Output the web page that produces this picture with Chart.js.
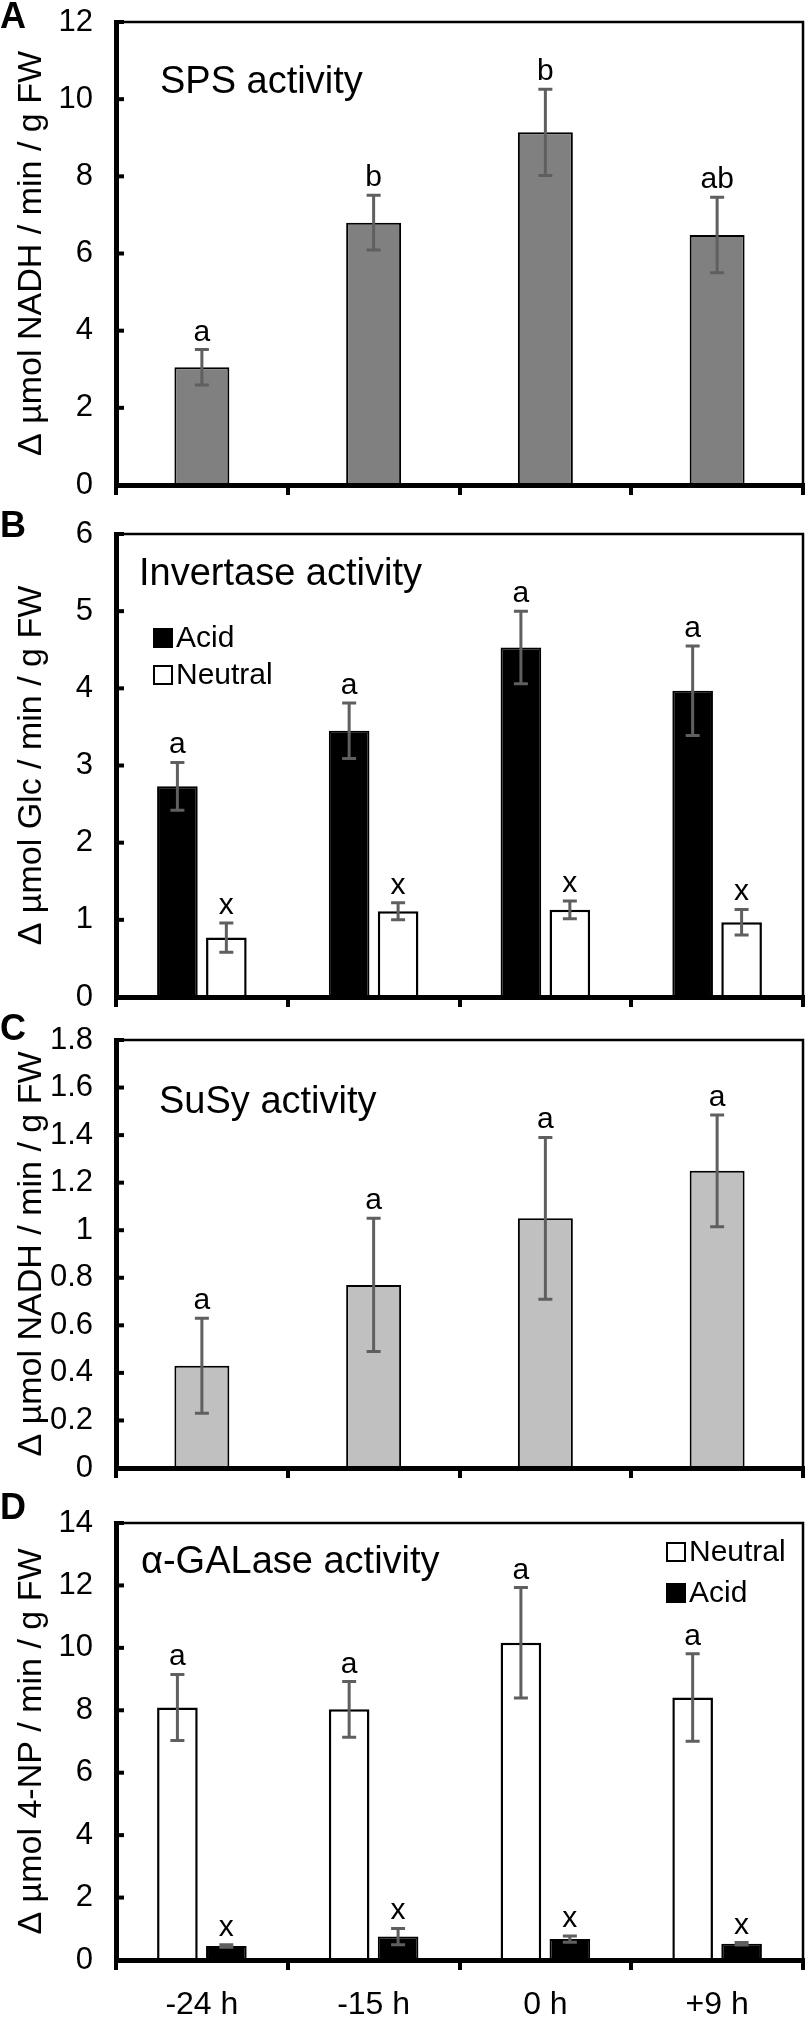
<!DOCTYPE html>
<html>
<head>
<meta charset="utf-8">
<title>Enzyme activities</title>
<script src="https://cdn.jsdelivr.net/npm/chart.js@4.4.1/dist/chart.umd.min.js"></script>
<style>
  body { margin: 0; background: #fff; }
  #page { position: relative; width: 811px; height: 2034px; }
  canvas { position: absolute; left: 0; }
</style>
</head>
<body>
<div id="page">
  <canvas id="chart-a" width="811" height="520" style="top:0px"></canvas>
  <canvas id="chart-b" width="811" height="535" style="top:500px"></canvas>
  <canvas id="chart-c" width="811" height="500" style="top:1005px"></canvas>
  <canvas id="chart-d" width="811" height="544" style="top:1490px"></canvas>
</div>
<script>
// sampling times
var timeLabels = ['-24 h', '-15 h', '0 h', '+9 h'];

// A - SPS
var spsMean = [3.05, 6.80, 9.14, 6.48];
var spsErr = [0.46, 0.71, 1.12, 0.98];
var spsLetters = ['a', 'b', 'b', 'ab'];

// B - invertase
var invAcidMean = [2.73, 3.45, 4.53, 3.97];
var invAcidErr = [0.31, 0.36, 0.47, 0.58];
var invAcidLetters = ['a', 'a', 'a', 'a'];
var invNeutralMean = [0.77, 1.11, 1.13, 0.97];
var invNeutralErr = [0.19, 0.11, 0.115, 0.165];
var invNeutralLetters = ['x', 'x', 'x', 'x'];

// C - SuSy
var susyMean = [0.43, 0.77, 1.05, 1.25];
var susyErr = [0.20, 0.28, 0.34, 0.235];
var susyLetters = ['a', 'a', 'a', 'a'];

// D - alpha-galactosidase
var galNeutralMean = [8.09, 8.03, 10.16, 8.41];
var galNeutralErr = [1.06, 0.89, 1.77, 1.40];
var galNeutralLetters = ['a', 'a', 'a', 'a'];
var galAcidMean = [0.45, 0.75, 0.67, 0.52];
var galAcidErr = [0.04, 0.26, 0.10, 0.04];
var galAcidLetters = ['x', 'x', 'x', 'x'];

// y axis ranges [max, step]
var spsAxis = [12, 2];
var invAxis = [6, 1];
var susyAxis = [1.8, 0.2];
var galAxis = [14, 2];

var FONT = "'Liberation Sans', Arial, Helvetica, sans-serif";
Chart.defaults.font.family = FONT;
Chart.defaults.color = '#000';

// frame, inward ticks, error bars, letters, heading, legend
var decor = {
  id: 'decor',
  afterDatasetsDraw: function(chart, args, opts) {
    var ctx = chart.ctx, area = chart.chartArea, y = chart.scales.y;
    ctx.save();
    ctx.strokeStyle = '#000';
    ctx.lineWidth = 2.5;
    ctx.beginPath();
    ctx.moveTo(area.left, area.top);
    ctx.lineTo(area.right, area.top);
    ctx.lineTo(area.right, area.bottom);
    ctx.stroke();

    ctx.lineWidth = 4;
    y.ticks.forEach(function(t) {
      var py = y.getPixelForValue(t.value);
      ctx.beginPath();
      ctx.moveTo(area.left, py);
      ctx.lineTo(area.left + 8, py);
      ctx.stroke();
    });

    chart.data.datasets.forEach(function(ds, di) {
      var meta = chart.getDatasetMeta(di);
      meta.data.forEach(function(bar, i) {
        var hi = y.getPixelForValue(ds.data[i] + ds.errors[i]);
        var lo = y.getPixelForValue(ds.data[i] - ds.errors[i]);
        ctx.strokeStyle = '#5f5f5f';
        ctx.lineWidth = 3;
        ctx.beginPath();
        ctx.moveTo(bar.x, hi); ctx.lineTo(bar.x, lo);
        ctx.moveTo(bar.x - 7, hi); ctx.lineTo(bar.x + 7, hi);
        ctx.moveTo(bar.x - 7, lo); ctx.lineTo(bar.x + 7, lo);
        ctx.stroke();
        ctx.fillStyle = '#000';
        ctx.font = '30px ' + FONT;
        ctx.textAlign = 'center';
        ctx.textBaseline = 'alphabetic';
        ctx.fillText(ds.letters[i], bar.x, hi - 9);
      });
    });

    // panel letter
    ctx.font = 'bold 36px ' + FONT;
    ctx.textAlign = 'left';
    ctx.textBaseline = 'middle';
    ctx.fillText(opts.letter, 0, area.top + opts.letterDy);

    // heading inside plot
    ctx.font = '38px ' + FONT;
    ctx.textBaseline = 'alphabetic';
    ctx.fillText(opts.heading, area.left + opts.headingDx, area.top + opts.headingDy);

    // legend
    if (opts.legend) {
      ctx.font = '30px ' + FONT;
      ctx.textBaseline = 'middle';
      chart.data.datasets.forEach(function(ds, di) {
        var lx = opts.legend.x, ly = area.top + opts.legend.dy + di * opts.legend.row;
        ctx.fillStyle = ds.backgroundColor;
        ctx.fillRect(lx, ly - 9, 18, 18);
        ctx.strokeStyle = '#000';
        ctx.lineWidth = 2;
        ctx.strokeRect(lx, ly - 9, 18, 18);
        ctx.fillStyle = '#000';
        ctx.fillText(ds.label, lx + 22, ly + 1);
      });
    }
    ctx.restore();
  }
};

function makePanel(id, datasets, axis, yTitle, decorOpts, padTop, xHeight, showX) {
  return new Chart(document.getElementById(id), {
    type: 'bar',
    data: { labels: timeLabels, datasets: datasets },
    options: {
      responsive: false,
      animation: false,
      events: [],
      layout: { padding: { top: padTop, right: 8, left: 0, bottom: 0 } },
      plugins: { legend: { display: false }, tooltip: { enabled: false }, decor: decorOpts },
      scales: {
        x: {
          grid: { offset: true, drawOnChartArea: false, color: '#000', lineWidth: 4, tickLength: 10, z: 1 },
          border: { display: true, color: '#000', width: 5, z: 1 },
          ticks: { display: showX, font: { size: 32 }, padding: 16 },
          afterFit: function(s) { s.height = xHeight; }
        },
        y: {
          min: 0, max: axis[0],
          // outward marks kept invisible: they only set the label gap
          grid: { display: true, drawOnChartArea: false, color: 'rgba(0,0,0,0)', tickLength: 23 },
          border: { display: true, color: '#000', width: 5, z: 1 },
          ticks: {
            stepSize: axis[1], font: { size: 31 }, padding: 0,
            callback: function(v) { return String(Math.round(v * 10) / 10); }
          },
          title: { display: true, text: yTitle, font: { size: 34 }, padding: { top: 11, bottom: 0 } },
          afterFit: function(s) { s.width = 116; }
        }
      }
    },
    plugins: [decor]
  });
}

makePanel('chart-a', [
  { label: 'SPS', data: spsMean, errors: spsErr, letters: spsLetters,
    backgroundColor: '#808080', borderColor: '#000', borderWidth: 2,
    barPercentage: 0.32, categoryPercentage: 1 }
], spsAxis, 'Δ µmol NADH / min / g FW',
  { letter: 'A', letterDy: -4, heading: 'SPS activity', headingDx: 44, headingDy: 71 },
  22, 35, false);

makePanel('chart-b', [
  { label: 'Acid', data: invAcidMean, errors: invAcidErr, letters: invAcidLetters,
    backgroundColor: '#000000', borderColor: '#000', borderWidth: 2,
    barPercentage: 0.83, categoryPercentage: 0.57 },
  { label: 'Neutral', data: invNeutralMean, errors: invNeutralErr, letters: invNeutralLetters,
    backgroundColor: '#ffffff', borderColor: '#000', borderWidth: 2.5,
    barPercentage: 0.83, categoryPercentage: 0.57 }
], invAxis, 'Δ µmol Glc / min / g FW',
  { letter: 'B', letterDy: -7, heading: 'Invertase activity', headingDx: 23, headingDy: 51,
    legend: { x: 154, dy: 104, row: 37 } },
  34, 38, false);

makePanel('chart-c', [
  { label: 'SuSy', data: susyMean, errors: susyErr, letters: susyLetters,
    backgroundColor: '#c0c0c0', borderColor: '#000', borderWidth: 2,
    barPercentage: 0.32, categoryPercentage: 1 }
], susyAxis, 'Δ µmol NADH / min / g FW',
  { letter: 'C', letterDy: -10, heading: 'SuSy activity', headingDx: 43, headingDy: 73 },
  35, 37, false);

makePanel('chart-d', [
  { label: 'Neutral', data: galNeutralMean, errors: galNeutralErr, letters: galNeutralLetters,
    backgroundColor: '#ffffff', borderColor: '#000', borderWidth: 2.5,
    barPercentage: 0.83, categoryPercentage: 0.57 },
  { label: 'Acid', data: galAcidMean, errors: galAcidErr, letters: galAcidLetters,
    backgroundColor: '#000000', borderColor: '#000', borderWidth: 2,
    barPercentage: 0.83, categoryPercentage: 0.57 }
], galAxis, 'Δ µmol 4-NP / min / g FW',
  { letter: 'D', letterDy: -14, heading: 'α-GALase activity', headingDx: 25, headingDy: 50,
    legend: { x: 667, dy: 29, row: 41 } },
  33, 74, true);
</script>
</body>
</html>
